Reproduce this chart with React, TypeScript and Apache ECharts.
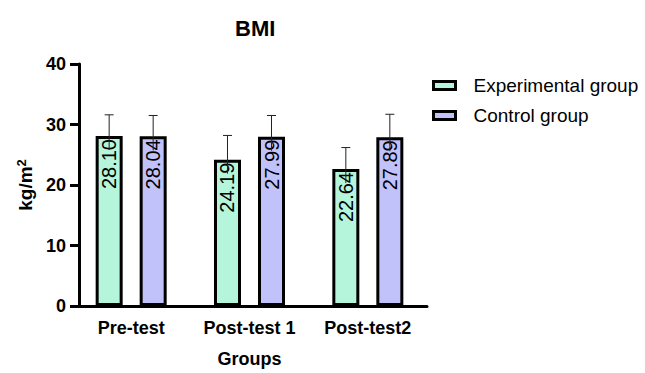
import React, { useEffect, useRef } from "react";
import * as echarts from "echarts";

const categories = ["Pre-test", "Post-test 1", "Post-test2"];
const seriesNames = ["Experimental group", "Control group"];
const expMeans = [28.1, 24.19, 22.64];
const ctrlMeans = [28.04, 27.99, 27.89];
const expSD = [3.5, 4.0, 3.55];
const ctrlSD = [3.45, 3.5, 3.8];
const yMin = 0;
const yMax = 40;
const yInterval = 10;

const FONT = "'Liberation Sans', Arial, sans-serif";
const BAR_W = 27;
const BAR_GAP = 0.63;
const GREEN = "#b4f5dc";
const PURPLE = "#c2c2fb";

function errorSeries(name: string, means: number[], sds: number[], dir: number) {
  const off = (dir * BAR_W * (1 + BAR_GAP)) / 2;
  return {
    type: "custom",
    name: name + " SD",
    z: 10,
    silent: true,
    encode: { x: 0, y: 1 },
    data: means.map((m, i) => [i, m, sds[i]]),
    renderItem: (params: any, api: any) => {
      const i = api.value(0);
      const m = api.value(1);
      const sd = api.value(2);
      const top = api.coord([i, m + sd]);
      const base = api.coord([i, m]);
      const x = top[0] + off;
      return {
        type: "group",
        children: [
          {
            type: "line",
            shape: { x1: x, y1: base[1] + 14, x2: x, y2: top[1] },
            style: { stroke: "#222", lineWidth: 1 },
          },
          {
            type: "line",
            shape: { x1: x - 4.5, y1: top[1], x2: x + 4.5, y2: top[1] },
            style: { stroke: "#222", lineWidth: 1 },
          },
        ],
      };
    },
  };
}

function barSeries(name: string, values: number[], color: string) {
  return {
    type: "bar",
    name,
    data: values,
    barWidth: BAR_W,
    barGap: BAR_GAP * 100 + "%",
    itemStyle: { color, borderColor: "#000", borderWidth: 3 },
    label: {
      show: true,
      position: "insideTop",
      rotate: 90,
      align: "right",
      verticalAlign: "middle",
      distance: 3,
      color: "#000",
      fontFamily: FONT,
      fontSize: 20,
      formatter: (p: any) => Number(p.value).toFixed(2),
    },
  };
}

export default function App() {
  const ref = useRef<HTMLDivElement>(null);
  useEffect(() => {
    if (!ref.current) return;
    const chart = echarts.init(ref.current, null, { renderer: "svg" });
    chart.setOption({
      animation: false,
      backgroundColor: "#fff",
      title: {
        text: "BMI",
        left: 230,
        top: 12,
        textStyle: { fontFamily: FONT, fontWeight: "bold", fontSize: 22, color: "#000" },
      },
      legend: {
        orient: "vertical",
        left: 427,
        top: 71,
        itemGap: 11,
        itemWidth: 22,
        itemHeight: 8,
        data: seriesNames,
        icon: "rect",
        itemStyle: { borderColor: "#000", borderWidth: 3 },
        textStyle: { fontFamily: FONT, fontSize: 19, color: "#000", padding: [0, 0, 0, 13] },
      },
      grid: { left: 72, right: 218, top: 64, height: 247 },
      xAxis: {
        type: "category",
        data: categories,
        name: "Groups",
        nameLocation: "middle",
        nameGap: 44,
        nameTextStyle: { fontFamily: FONT, fontWeight: "bold", fontSize: 18, color: "#000" },
        axisLine: { lineStyle: { color: "#000", width: 3 } },
        axisTick: { alignWithLabel: true, length: 9, lineStyle: { color: "#000", width: 3 } },
        axisLabel: { interval: 0, hideOverlap: false, margin: 13, fontFamily: FONT, fontWeight: "bold", fontSize: 18, color: "#000" },
      },
      yAxis: {
        type: "value",
        min: yMin,
        max: yMax,
        interval: yInterval,
        offset: -7,
        name: "kg/m{sup|2}",
        nameLocation: "middle",
        nameGap: 41,
        nameTextStyle: {
          fontFamily: FONT,
          fontWeight: "bold",
          fontSize: 19,
          color: "#000",
          rich: {
            sup: { fontFamily: FONT, fontWeight: "bold", fontSize: 13, color: "#000", verticalAlign: "top", padding: [0, 0, 8, 0] },
          },
        },
        splitLine: { show: false },
        axisLine: { show: true, lineStyle: { color: "#000", width: 3 } },
        axisTick: { show: true, length: 9, lineStyle: { color: "#000", width: 3 } },
        axisLabel: { margin: 13, fontFamily: FONT, fontWeight: "bold", fontSize: 18, color: "#000" },
      },
      series: [
        barSeries(seriesNames[0], expMeans, GREEN),
        barSeries(seriesNames[1], ctrlMeans, PURPLE),
        errorSeries(seriesNames[0], expMeans, expSD, -1),
        errorSeries(seriesNames[1], ctrlMeans, ctrlSD, 1),
      ],
    });
    return () => chart.dispose();
  }, []);
  return (
    <div
      ref={ref}
      style={{ position: "fixed", left: 0, top: 0, width: 645, height: 373, background: "#fff" }}
    />
  );
}
